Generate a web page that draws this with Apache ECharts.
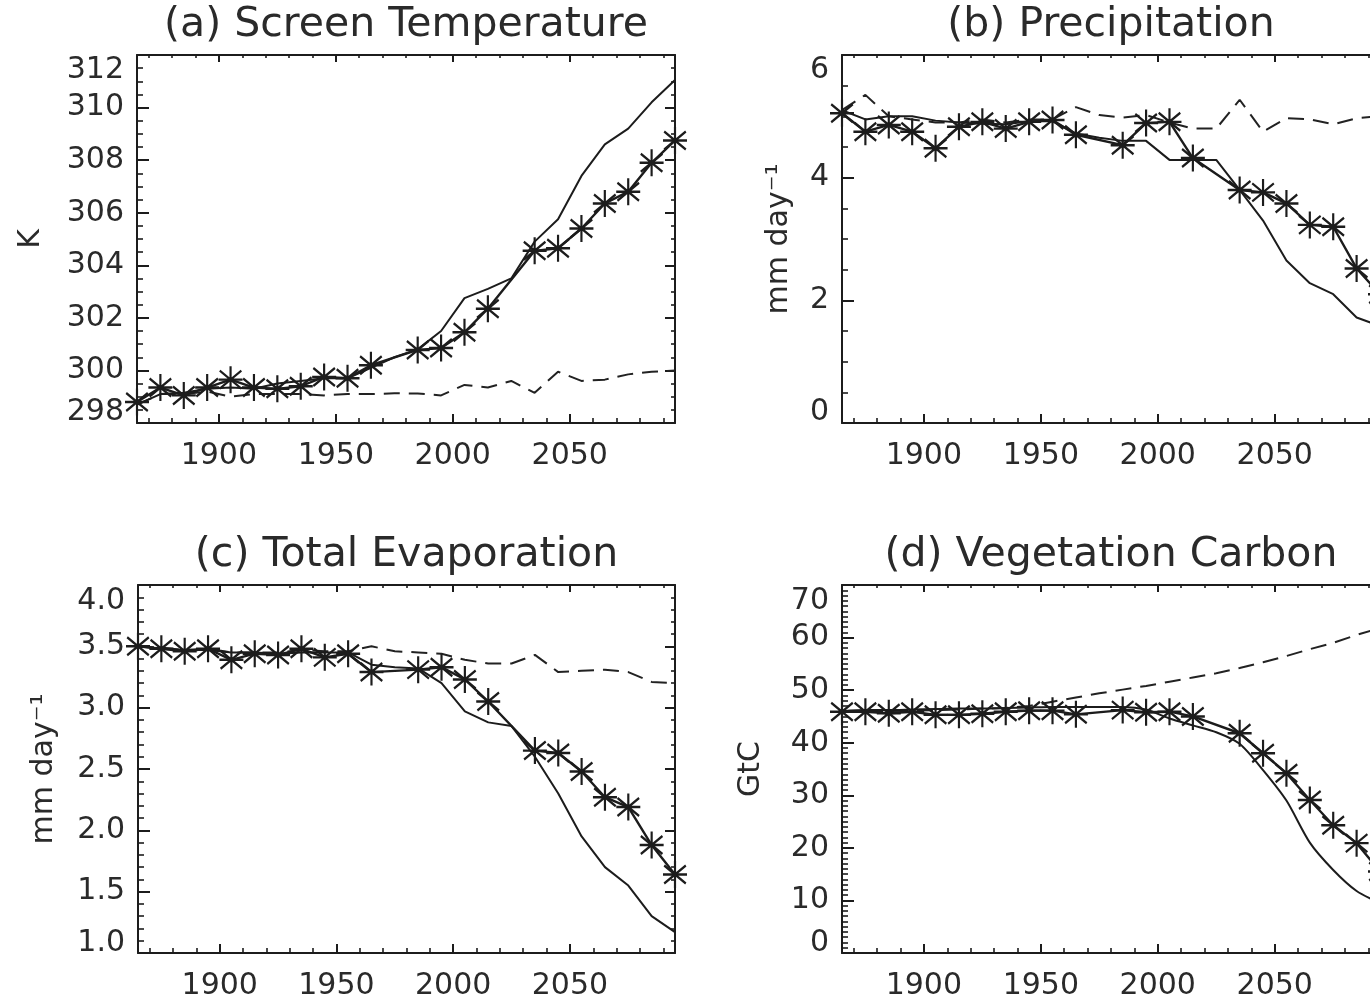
<!DOCTYPE html>
<html><head><meta charset="utf-8">
<script src="https://cdn.jsdelivr.net/npm/echarts@6/dist/echarts.min.js"></script>
<style>html,body{margin:0;padding:0;background:#fff}#c{width:1370px;height:1000px}</style>
</head><body><div id="c"></div>
<script>
// ---------- data ----------
const years = [1865,1875,1885,1895,1905,1915,1925,1935,1945,1955,1965,1975,1985,1995,2005,2015,2025,2035,2045,2055,2065,2075,2085,2095];
const majorYears = [1900,1950,2000,2050];
const decadeTicks = [1870,1880,1890,1900,1910,1920,1930,1940,1950,1960,1970,1980,1990,2000,2010,2020,2030,2040,2050,2060,2070,2080,2090];

const panelTitles = ['(a) Screen Temperature','(b) Precipitation','(c) Total Evaporation','(d) Vegetation Carbon'];
const yNames = ['K','mm day\u207B\u00B9','mm day\u207B\u00B9','GtC'];

const tempStar  = [298.8,299.35,299.05,299.35,299.65,299.35,299.3,299.4,299.75,299.7,300.2,null,300.78,300.85,301.45,302.35,null,304.55,304.65,305.4,306.35,306.8,307.9,308.75];
const tempPlain = [298.7,299.1,299.15,299.3,299.35,299.3,299.5,299.6,299.7,299.7,300.1,300.5,300.8,301.5,302.75,303.1,303.5,304.9,305.75,307.4,308.6,309.2,310.2,311.05];
const tempDash  = [298.7,299.1,299.1,299.2,299.0,299.1,299.1,299.1,299.05,299.1,299.1,299.13,299.12,299.05,299.45,299.35,299.6,299.15,299.95,299.6,299.65,299.85,299.95,300.0];

const precStar  = [5.05,4.75,4.86,4.75,4.48,4.83,4.91,4.8,4.91,4.94,4.7,null,4.53,4.89,4.91,4.32,null,3.8,3.76,3.58,3.23,3.2,2.52,2.1];
const precPlain = [5.1,4.95,5.0,5.0,4.93,4.9,4.88,4.87,4.92,4.92,4.72,4.65,4.6,4.6,4.29,4.29,4.29,3.8,3.3,2.65,2.28,2.1,1.72,1.58];
const precDash  = [5.1,5.35,5.0,4.95,4.9,4.9,4.95,4.9,4.95,4.95,5.15,5.02,4.98,5.02,4.9,4.8,4.8,5.27,4.75,4.97,4.95,4.87,4.97,5.0];

const evapStar  = [3.5,3.48,3.46,3.48,3.39,3.44,3.43,3.48,3.41,3.44,3.29,null,3.31,3.33,3.23,3.05,null,2.65,2.63,2.48,2.27,2.19,1.88,1.64];
const evapPlain = [3.5,3.48,3.47,3.47,3.45,3.45,3.44,3.45,3.45,3.45,3.35,3.33,3.32,3.2,2.97,2.88,2.85,2.6,2.3,1.95,1.7,1.55,1.3,1.17];
const evapDash  = [3.5,3.49,3.47,3.48,3.45,3.45,3.45,3.47,3.46,3.46,3.5,3.46,3.45,3.44,3.39,3.36,3.36,3.43,3.29,3.3,3.31,3.29,3.21,3.2];

const vegStar  = [45.9,45.9,45.6,45.9,45.3,45.3,45.5,45.9,46.1,46.1,45.4,null,46.2,45.8,45.9,45.0,null,41.8,38.0,34.2,29.1,24.3,20.9,15.5];
const vegPlain = [46.0,46.2,46.2,46.3,46.4,46.5,46.5,46.6,46.7,46.8,46.8,46.8,46.8,46.3,44.6,43.3,42.0,39.8,34.8,29.0,21.0,15.8,11.8,9.5];
const vegDash  = [46.0,46.0,46.0,46.1,46.2,46.3,46.5,46.6,47.0,47.8,48.6,49.4,50.1,50.8,51.6,52.4,53.2,54.2,55.3,56.5,57.8,59.0,60.5,61.8];

// ---------- layout / style ----------
const INK = '#1c1c1c';
const TXT = '#2a2a2a';
const FONT = 'DejaVu Sans';
const grids = [
  {left:137, top:55,  width:538, height:368},
  {left:842, top:55,  width:538, height:368},
  {left:138, top:585, width:537, height:368},
  {left:842, top:585, width:538, height:368}
];
const yCfg = [
  {min:298, max:312, interval:2,   minor:4,  dec:0, gap:91, hiPad:30, loPad:22},
  {min:0,   max:6,   interval:2,   minor:4,  dec:0, gap:48, hiPad:30, loPad:22},
  {min:1,   max:4,   interval:0.5, minor:5,  dec:1, gap:79, hiPad:32, loPad:20},
  {min:0,   max:70,  interval:10,  minor:10, dec:0, gap:76, hiPad:32, loPad:20}
];
const seriesSets = [
  [tempStar, tempPlain, tempDash],
  [precStar, precPlain, precDash],
  [evapStar, evapPlain, evapDash],
  [vegStar,  vegPlain,  vegDash]
];
const STAR = 'path://M10,0L10,24M0,12L20,12M1,4L19,20M1,20L19,4';

const xAxis = [], yAxis = [], series = [], graphic = [];
grids.forEach((g, i) => {
  const base = {type:'value', gridIndex:i, min:1865, max:2095, splitLine:{show:false}, silent:true};
  const bx = xAxis.length;
  xAxis.push(Object.assign({}, base, {position:'bottom',
    axisLine:{show:true, lineStyle:{color:INK, width:2}},
    axisTick:{show:true, inside:true, length:9, customValues:majorYears, lineStyle:{color:INK, width:2}},
    axisLabel:{show:true, customValues:majorYears, margin:18, fontSize:30, fontFamily:FONT, color:TXT,
      formatter: v => String(Math.round(v))}}));
  xAxis.push(Object.assign({}, base, {position:'bottom',
    axisLine:{show:false},
    axisTick:{show:true, inside:true, length:5, customValues:decadeTicks, lineStyle:{color:INK, width:1.6}},
    axisLabel:{show:false}}));
  xAxis.push(Object.assign({}, base, {position:'top',
    axisLine:{show:true, lineStyle:{color:INK, width:2}},
    axisTick:{show:true, inside:true, length:7, customValues:majorYears, lineStyle:{color:INK, width:2}},
    axisLabel:{show:false}}));
  xAxis.push(Object.assign({}, base, {position:'top',
    axisLine:{show:false},
    axisTick:{show:true, inside:true, length:3, customValues:decadeTicks, lineStyle:{color:INK, width:1.6}},
    axisLabel:{show:false}}));

  const c = yCfg[i];
  const ly = yAxis.length;
  yAxis.push({type:'value', gridIndex:i, position:'left', min:c.min, max:c.max, interval:c.interval,
    splitLine:{show:false}, silent:true,
    axisLine:{show:true, lineStyle:{color:INK, width:2}},
    axisTick:{show:true, inside:true, length:12, lineStyle:{color:INK, width:2}},
    minorTick:{show:true, splitNumber:c.minor, length:6, lineStyle:{color:INK, width:1.6}},
    axisLabel:{show:true, margin:13, fontSize:30, fontFamily:FONT, color:TXT,
      formatter: v => {
        const s = v.toFixed(c.dec);
        if (Math.abs(v - c.max) < 1e-9) return '{hi|' + s + '}';
        if (Math.abs(v - c.min) < 1e-9) return '{lo|' + s + '}';
        return s;
      },
      rich:{
        hi:{fontSize:30, fontFamily:FONT, color:TXT, padding:[c.hiPad,0,0,0]},
        lo:{fontSize:30, fontFamily:FONT, color:TXT, padding:[0,0,c.loPad,0]}
      }},
    name: yNames[i], nameLocation:'middle', nameRotate:90, nameGap:c.gap,
    nameTextStyle:{fontSize:30, fontFamily:FONT, color:TXT}});
  yAxis.push({type:'value', gridIndex:i, position:'right', min:c.min, max:c.max, interval:c.interval,
    splitLine:{show:false}, silent:true,
    axisLine:{show:true, lineStyle:{color:INK, width:2}},
    axisTick:{show:true, inside:true, length:10, lineStyle:{color:INK, width:2}},
    minorTick:{show:true, splitNumber:c.minor, length:4, lineStyle:{color:INK, width:1.6}},
    axisLabel:{show:false}});

  const [st, pl, da] = seriesSets[i];
  const pairs = arr => years.map((y, k) => [y, arr[k]]);
  series.push({type:'line', xAxisIndex:bx, yAxisIndex:ly, data:pairs(da), symbol:'none',
    lineStyle:{color:'#222', width:2, type:[16,9]}, silent:true, z:2});
  series.push({type:'line', xAxisIndex:bx, yAxisIndex:ly, data:pairs(pl), symbol:'none',
    smooth: i === 3 ? 0.25 : false,
    lineStyle:{color:INK, width:2}, silent:true, z:3});
  series.push({type:'line', xAxisIndex:bx, yAxisIndex:ly, data:pairs(st), connectNulls:true,
    symbol:STAR, symbolSize:[24,27], showSymbol:true,
    itemStyle:{color:INK, borderColor:INK, borderWidth:2.3},
    lineStyle:{color:INK, width:2.4}, silent:true, z:4});

  graphic.push({type:'text', x:g.left + g.width/2, y:g.top - 30,
    style:{text:panelTitles[i], font:'41px "' + FONT + '"', fill:TXT, textAlign:'center', textVerticalAlign:'middle'}});
});

const chart = echarts.init(document.getElementById('c'), null, {renderer:'canvas'});
chart.setOption({
  animation:false,
  backgroundColor:'#ffffff',
  grid: grids.map(g => Object.assign({outerBoundsMode:'none', containLabel:false}, g)),
  xAxis, yAxis, series, graphic
});
</script>
</body></html>
